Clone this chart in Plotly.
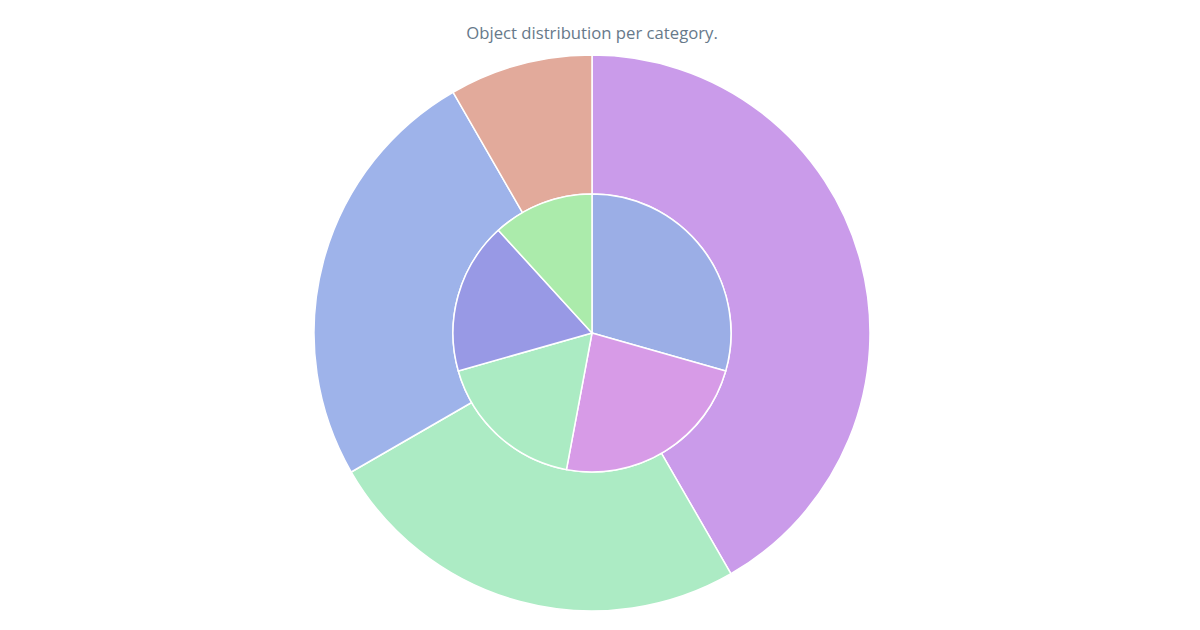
import plotly.graph_objects as go

outer_labels = ["A", "B", "C", "D"]
outer_values = [5, 3, 3, 1]
outer_colors = ["#CA9BEA", "#ACEBC4", "#9EB3EA", "#E2AA9B"]

inner_labels = ["a1", "a2", "a3", "a4", "a5"]
inner_values = [5, 4, 3, 3, 2]
inner_colors = ["#9BAEE6", "#D79BE7", "#ABEBC3", "#9899E5", "#ABEBAB"]

fig = go.Figure()

# outer ring
fig.add_trace(go.Pie(
    labels=outer_labels, values=outer_values,
    hole=0.5, sort=False, direction="clockwise", rotation=0,
    textinfo="none", showlegend=False,
    marker=dict(colors=outer_colors, line=dict(color="white", width=1.5)),
    domain=dict(x=[0, 0.97333], y=[0, 1]),
))

# inner pie, half radius
fig.add_trace(go.Pie(
    labels=inner_labels, values=inner_values,
    sort=False, direction="clockwise", rotation=0,
    textinfo="none", showlegend=False,
    marker=dict(colors=inner_colors, line=dict(color="white", width=1.5)),
    domain=dict(x=[0.36, 0.61333], y=[0.25, 0.75]),
))

fig.update_layout(
    width=1200, height=630,
    title=dict(text="Object distribution per category.", x=0.4867, xanchor="center",
               y=0.9603, yanchor="middle",
               font=dict(family="Open Sans, sans-serif", size=16.7, color="#67798A")),
    margin=dict(l=0, r=0, t=47, b=27),
    paper_bgcolor="white",
)

fig.write_html("out.html")
